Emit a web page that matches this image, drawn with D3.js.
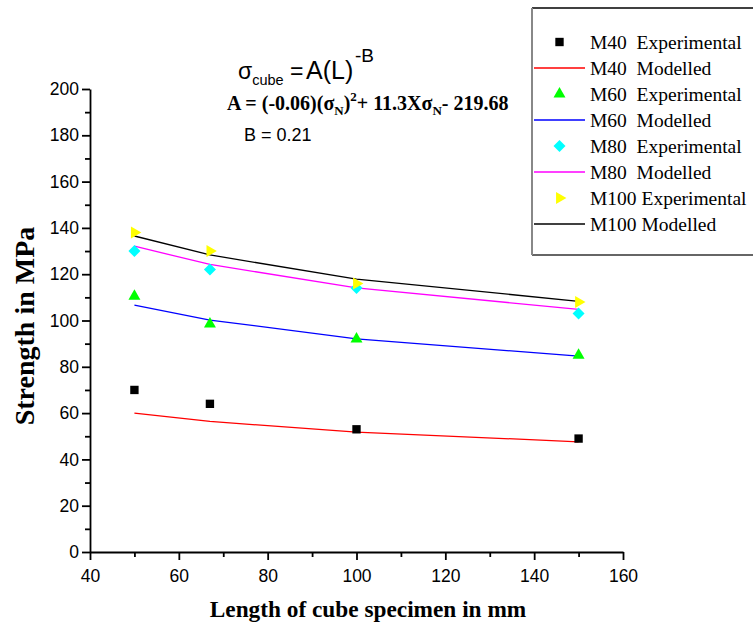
<!DOCTYPE html>
<html>
<head>
<meta charset="utf-8">
<script src="https://d3js.org/d3.v7.min.js"></script>
<style>
  body { margin: 0; background: #fff; }
  svg text { fill: #000; }
</style>
</head>
<body>
<svg width="753" height="631"></svg>
<script>
// values
var lengths = [50, 67, 100, 150];
var m40Exp = [70, 64, 53, 49];
var m40Mod = [60.0, 56.4, 51.8, 47.6];
var m60Exp = [110.5, 98.5, 92, 85];
var m60Mod = [106.6, 100.2, 92.1, 84.6];
var m80Exp = [130, 122, 114, 103];
var m80Mod = [132.1, 124.2, 114.1, 104.8];
var m100Exp = [138, 130, 116, 108];
var m100Mod = [136.5, 128.3, 117.9, 108.3];

var xTicks = [40, 60, 80, 100, 120, 140, 160];
var xMinor = [50, 70, 90, 110, 130, 150];
var yTicks = [0, 20, 40, 60, 80, 100, 120, 140, 160, 180, 200];
var yMinor = [10, 30, 50, 70, 90, 110, 130, 150, 170, 190];

var svg = d3.select("svg");

var x = d3.scaleLinear().domain([40, 160]).range([90, 623]);
var y = d3.scaleLinear().domain([0, 200]).range([552, 89]);

var sans = "'Liberation Sans', Arial, sans-serif";
var serif = "'Liberation Serif', 'Times New Roman', serif";

// axes
svg.append("g")
    .attr("transform", "translate(0,552)")
    .call(d3.axisBottom(x).tickValues(xTicks).tickSize(8).tickSizeOuter(0).tickPadding(10));
svg.append("g")
    .attr("transform", "translate(0,552)")
    .call(d3.axisBottom(x).tickValues(xMinor).tickSize(5).tickFormat("").tickSizeOuter(0))
    .select(".domain").remove();

svg.append("g")
    .attr("transform", "translate(90,0)")
    .call(d3.axisLeft(y).tickValues(yTicks).tickSize(8).tickSizeOuter(0).tickPadding(3));
svg.append("g")
    .attr("transform", "translate(90,0)")
    .call(d3.axisLeft(y).tickValues(yMinor).tickSize(5).tickFormat("").tickSizeOuter(0))
    .select(".domain").remove();

svg.selectAll(".domain, .tick line").attr("stroke", "#000").attr("stroke-width", 1.8);
svg.selectAll(".tick text")
    .attr("font-family", sans)
    .attr("font-size", "17.5px")
    .attr("fill", "#000");

// axis titles
svg.append("text")
    .attr("x", 368).attr("y", 617)
    .attr("text-anchor", "middle")
    .attr("font-family", serif).attr("font-weight", "bold").attr("font-size", "23.3px")
    .text("Length of cube specimen in mm");

svg.append("text")
    .attr("transform", "translate(33.5,326) rotate(-90)")
    .attr("text-anchor", "middle")
    .attr("font-family", serif).attr("font-weight", "bold").attr("font-size", "28px")
    .text("Strength in MPa");

// series
var series = [
  { name: "M40", exp: m40Exp, mod: m40Mod, line: "#ff0000", mark: "#000000", shape: d3.symbolSquare, size: 70, rot: 0 },
  { name: "M60", exp: m60Exp, mod: m60Mod, line: "#0000ff", mark: "#00ff00", shape: d3.symbolTriangle, size: 62, rot: 0 },
  { name: "M80", exp: m80Exp, mod: m80Mod, line: "#ff00ff", mark: "#00ffff", shape: d3.symbolSquare, size: 72, rot: 45 },
  { name: "M100", exp: m100Exp, mod: m100Mod, line: "#000000", mark: "#ffff00", shape: d3.symbolTriangle, size: 62, rot: 90 }
];

var line = d3.line()
    .x(function(d) { return x(d[0]); })
    .y(function(d) { return y(d[1]); });

series.forEach(function(s) {
  svg.append("path")
      .datum(d3.zip(lengths, s.mod))
      .attr("fill", "none")
      .attr("stroke", s.line)
      .attr("stroke-width", 1.3)
      .attr("d", line);
});

series.forEach(function(s) {
  svg.append("g").selectAll("path")
      .data(d3.zip(lengths, s.exp))
      .enter().append("path")
      .attr("transform", function(d) { return "translate(" + x(d[0]) + "," + y(d[1]) + ") rotate(" + s.rot + ")"; })
      .attr("d", d3.symbol().type(s.shape).size(s.size))
      .attr("fill", s.mark);
});

// equation
var eq1 = svg.append("text")
    .attr("x", 238).attr("y", 79)
    .attr("font-family", sans).attr("font-size", "23px");
eq1.append("tspan").text("\u03c3");
eq1.append("tspan").attr("font-size", "14.5px").attr("dy", 6).text("cube");
eq1.append("tspan").attr("x", 290).attr("dy", -6).text("=");
eq1.append("tspan").attr("x", 306).attr("font-size", "25px").text("A(L)");
eq1.append("tspan").attr("x", 355).attr("font-size", "19px").attr("dy", -17).text("-B");

var eq2 = svg.append("text")
    .attr("x", 227).attr("y", 110)
    .attr("font-family", serif).attr("font-weight", "bold").attr("font-size", "20px");
eq2.append("tspan").text("A = (-0.06)(\u03c3");
eq2.append("tspan").attr("font-size", "13px").attr("dy", 5).text("N");
eq2.append("tspan").attr("dy", -5).text(")");
eq2.append("tspan").attr("font-size", "13px").attr("dy", -9).text("2");
eq2.append("tspan").attr("dy", 9).text("+ 11.3X\u03c3");
eq2.append("tspan").attr("font-size", "13px").attr("dy", 5).text("N");
eq2.append("tspan").attr("dy", -5).text("- 219.68");

svg.append("text")
    .attr("x", 244).attr("y", 141)
    .attr("font-family", sans).attr("font-size", "18px")
    .text("B = 0.21");

// legend
var legend = svg.append("g");
legend.append("line").attr("x1", 532).attr("x2", 760).attr("y1", 8).attr("y2", 8)
    .attr("stroke", "#000").attr("stroke-width", 1.5);
legend.append("line").attr("x1", 532).attr("x2", 760).attr("y1", 255).attr("y2", 255)
    .attr("stroke", "#333").attr("stroke-width", 1.5);
legend.append("line").attr("x1", 532).attr("x2", 532).attr("y1", 8).attr("y2", 255)
    .attr("stroke", "#888").attr("stroke-width", 2);

var rowY = d3.scaleLinear().domain([0, 7]).range([42, 224]);
series.forEach(function(s, i) {
  var ye = rowY(i * 2), ym = rowY(i * 2 + 1);
  legend.append("path")
      .attr("transform", "translate(559.5," + ye + ") rotate(" + s.rot + ")")
      .attr("d", d3.symbol().type(s.shape).size(s.size))
      .attr("fill", s.mark);
  legend.append("line")
      .attr("x1", 534).attr("x2", 585).attr("y1", ym).attr("y2", ym)
      .attr("stroke", s.line).attr("stroke-width", 1.3);
  var gap = s.name === "M100" ? " " : "  ";
  legend.append("text").attr("x", 590).attr("y", ye).attr("dy", "0.35em")
      .attr("font-family", serif).attr("font-size", "19.5px")
      .style("white-space", "pre")
      .text(s.name + gap + "Experimental");
  legend.append("text").attr("x", 590).attr("y", ym).attr("dy", "0.35em")
      .attr("font-family", serif).attr("font-size", "19.5px")
      .style("white-space", "pre")
      .text(s.name + gap + "Modelled");
});
</script>
</body>
</html>
